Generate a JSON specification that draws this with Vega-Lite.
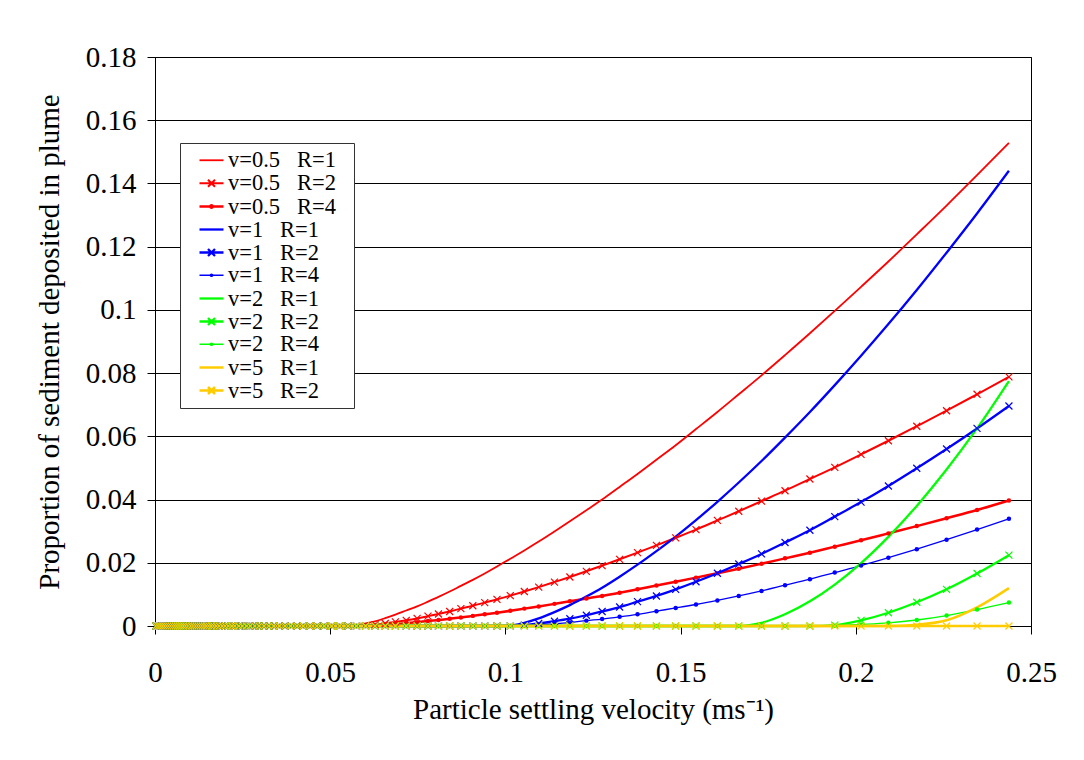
{
  "$schema": "https://vega.github.io/schema/vega-lite/v6.json",
  "width": 876,
  "height": 569,
  "autosize": {"type": "none"},
  "padding": {"left": 155, "top": 57, "right": 53, "bottom": 134},
  "background": "white",
  "config": {
    "font": "Liberation Serif",
    "view": {"stroke": "black", "strokeWidth": 1},
    "axis": {
      "labelFont": "Liberation Serif",
      "labelFontSize": 29,
      "labelColor": "black",
      "labelFlush": false,
      "titleFont": "Liberation Serif",
      "titleFontSize": 29,
      "titleFontWeight": "normal",
      "titleColor": "black",
      "domainColor": "black",
      "tickColor": "black",
      "tickSize": 8,
      "gridColor": "black",
      "gridWidth": 1,
      "gridOpacity": 1
    }
  },
  "data": {
    "values": [
      {"x":0.0003,"a1":0,"a2":0,"a4":0,"b1":0,"b2":0,"b4":0,"c1":0,"c2":0,"c4":0,"d1":0,"d2":0},
      {"x":0.001,"a1":0,"a2":0,"a4":0,"b1":0,"b2":0,"b4":0,"c1":0,"c2":0,"c4":0,"d1":0,"d2":0},
      {"x":0.0016,"a1":0,"a2":0,"a4":0,"b1":0,"b2":0,"b4":0,"c1":0,"c2":0,"c4":0,"d1":0,"d2":0},
      {"x":0.0022,"a1":0,"a2":0,"a4":0,"b1":0,"b2":0,"b4":0,"c1":0,"c2":0,"c4":0,"d1":0,"d2":0},
      {"x":0.0028,"a1":0,"a2":0,"a4":0,"b1":0,"b2":0,"b4":0,"c1":0,"c2":0,"c4":0,"d1":0,"d2":0},
      {"x":0.0034,"a1":0,"a2":0,"a4":0,"b1":0,"b2":0,"b4":0,"c1":0,"c2":0,"c4":0,"d1":0,"d2":0},
      {"x":0.004,"a1":0,"a2":0,"a4":0,"b1":0,"b2":0,"b4":0,"c1":0,"c2":0,"c4":0,"d1":0,"d2":0},
      {"x":0.0046,"a1":0,"a2":0,"a4":0,"b1":0,"b2":0,"b4":0,"c1":0,"c2":0,"c4":0,"d1":0,"d2":0},
      {"x":0.0052,"a1":0,"a2":0,"a4":0,"b1":0,"b2":0,"b4":0,"c1":0,"c2":0,"c4":0,"d1":0,"d2":0},
      {"x":0.0058,"a1":0,"a2":0,"a4":0,"b1":0,"b2":0,"b4":0,"c1":0,"c2":0,"c4":0,"d1":0,"d2":0},
      {"x":0.0064,"a1":0,"a2":0,"a4":0,"b1":0,"b2":0,"b4":0,"c1":0,"c2":0,"c4":0,"d1":0,"d2":0},
      {"x":0.007,"a1":0,"a2":0,"a4":0,"b1":0,"b2":0,"b4":0,"c1":0,"c2":0,"c4":0,"d1":0,"d2":0},
      {"x":0.0076,"a1":0,"a2":0,"a4":0,"b1":0,"b2":0,"b4":0,"c1":0,"c2":0,"c4":0,"d1":0,"d2":0},
      {"x":0.0082,"a1":0,"a2":0,"a4":0,"b1":0,"b2":0,"b4":0,"c1":0,"c2":0,"c4":0,"d1":0,"d2":0},
      {"x":0.0088,"a1":0,"a2":0,"a4":0,"b1":0,"b2":0,"b4":0,"c1":0,"c2":0,"c4":0,"d1":0,"d2":0},
      {"x":0.0094,"a1":0,"a2":0,"a4":0,"b1":0,"b2":0,"b4":0,"c1":0,"c2":0,"c4":0,"d1":0,"d2":0},
      {"x":0.0099,"a1":0,"a2":0,"a4":0,"b1":0,"b2":0,"b4":0,"c1":0,"c2":0,"c4":0,"d1":0,"d2":0},
      {"x":0.0103,"a1":0,"a2":0,"a4":0,"b1":0,"b2":0,"b4":0,"c1":0,"c2":0,"c4":0,"d1":0,"d2":0},
      {"x":0.0108,"a1":0,"a2":0,"a4":0,"b1":0,"b2":0,"b4":0,"c1":0,"c2":0,"c4":0,"d1":0,"d2":0},
      {"x":0.0113,"a1":0,"a2":0,"a4":0,"b1":0,"b2":0,"b4":0,"c1":0,"c2":0,"c4":0,"d1":0,"d2":0},
      {"x":0.0118,"a1":0,"a2":0,"a4":0,"b1":0,"b2":0,"b4":0,"c1":0,"c2":0,"c4":0,"d1":0,"d2":0},
      {"x":0.0123,"a1":0,"a2":0,"a4":0,"b1":0,"b2":0,"b4":0,"c1":0,"c2":0,"c4":0,"d1":0,"d2":0},
      {"x":0.0129,"a1":0,"a2":0,"a4":0,"b1":0,"b2":0,"b4":0,"c1":0,"c2":0,"c4":0,"d1":0,"d2":0},
      {"x":0.0135,"a1":0,"a2":0,"a4":0,"b1":0,"b2":0,"b4":0,"c1":0,"c2":0,"c4":0,"d1":0,"d2":0},
      {"x":0.0141,"a1":0,"a2":0,"a4":0,"b1":0,"b2":0,"b4":0,"c1":0,"c2":0,"c4":0,"d1":0,"d2":0},
      {"x":0.0147,"a1":0,"a2":0,"a4":0,"b1":0,"b2":0,"b4":0,"c1":0,"c2":0,"c4":0,"d1":0,"d2":0},
      {"x":0.0154,"a1":0,"a2":0,"a4":0,"b1":0,"b2":0,"b4":0,"c1":0,"c2":0,"c4":0,"d1":0,"d2":0},
      {"x":0.0161,"a1":0,"a2":0,"a4":0,"b1":0,"b2":0,"b4":0,"c1":0,"c2":0,"c4":0,"d1":0,"d2":0},
      {"x":0.0168,"a1":0,"a2":0,"a4":0,"b1":0,"b2":0,"b4":0,"c1":0,"c2":0,"c4":0,"d1":0,"d2":0},
      {"x":0.0175,"a1":0,"a2":0,"a4":0,"b1":0,"b2":0,"b4":0,"c1":0,"c2":0,"c4":0,"d1":0,"d2":0},
      {"x":0.0183,"a1":0,"a2":0,"a4":0,"b1":0,"b2":0,"b4":0,"c1":0,"c2":0,"c4":0,"d1":0,"d2":0},
      {"x":0.0192,"a1":0,"a2":0,"a4":0,"b1":0,"b2":0,"b4":0,"c1":0,"c2":0,"c4":0,"d1":0,"d2":0},
      {"x":0.0200,"a1":0,"a2":0,"a4":0,"b1":0,"b2":0,"b4":0,"c1":0,"c2":0,"c4":0,"d1":0,"d2":0},
      {"x":0.0209,"a1":0,"a2":0,"a4":0,"b1":0,"b2":0,"b4":0,"c1":0,"c2":0,"c4":0,"d1":0,"d2":0},
      {"x":0.0219,"a1":0,"a2":0,"a4":0,"b1":0,"b2":0,"b4":0,"c1":0,"c2":0,"c4":0,"d1":0,"d2":0},
      {"x":0.0228,"a1":0,"a2":0,"a4":0,"b1":0,"b2":0,"b4":0,"c1":0,"c2":0,"c4":0,"d1":0,"d2":0},
      {"x":0.0239,"a1":0,"a2":0,"a4":0,"b1":0,"b2":0,"b4":0,"c1":0,"c2":0,"c4":0,"d1":0,"d2":0},
      {"x":0.0249,"a1":0,"a2":0,"a4":0,"b1":0,"b2":0,"b4":0,"c1":0,"c2":0,"c4":0,"d1":0,"d2":0},
      {"x":0.0261,"a1":0,"a2":0,"a4":0,"b1":0,"b2":0,"b4":0,"c1":0,"c2":0,"c4":0,"d1":0,"d2":0},
      {"x":0.0272,"a1":0,"a2":0,"a4":0,"b1":0,"b2":0,"b4":0,"c1":0,"c2":0,"c4":0,"d1":0,"d2":0},
      {"x":0.0285,"a1":0,"a2":0,"a4":0,"b1":0,"b2":0,"b4":0,"c1":0,"c2":0,"c4":0,"d1":0,"d2":0},
      {"x":0.0297,"a1":0,"a2":0,"a4":0,"b1":0,"b2":0,"b4":0,"c1":0,"c2":0,"c4":0,"d1":0,"d2":0},
      {"x":0.0311,"a1":0,"a2":0,"a4":0,"b1":0,"b2":0,"b4":0,"c1":0,"c2":0,"c4":0,"d1":0,"d2":0},
      {"x":0.0325,"a1":0,"a2":0,"a4":0,"b1":0,"b2":0,"b4":0,"c1":0,"c2":0,"c4":0,"d1":0,"d2":0},
      {"x":0.0339,"a1":0,"a2":0,"a4":0,"b1":0,"b2":0,"b4":0,"c1":0,"c2":0,"c4":0,"d1":0,"d2":0},
      {"x":0.0355,"a1":0,"a2":0,"a4":0,"b1":0,"b2":0,"b4":0,"c1":0,"c2":0,"c4":0,"d1":0,"d2":0},
      {"x":0.0371,"a1":0,"a2":0,"a4":0,"b1":0,"b2":0,"b4":0,"c1":0,"c2":0,"c4":0,"d1":0,"d2":0},
      {"x":0.0387,"a1":0,"a2":0,"a4":0,"b1":0,"b2":0,"b4":0,"c1":0,"c2":0,"c4":0,"d1":0,"d2":0},
      {"x":0.0405,"a1":0,"a2":0,"a4":0,"b1":0,"b2":0,"b4":0,"c1":0,"c2":0,"c4":0,"d1":0,"d2":0},
      {"x":0.0423,"a1":0,"a2":0,"a4":0,"b1":0,"b2":0,"b4":0,"c1":0,"c2":0,"c4":0,"d1":0,"d2":0},
      {"x":0.0442,"a1":0,"a2":0,"a4":0,"b1":0,"b2":0,"b4":0,"c1":0,"c2":0,"c4":0,"d1":0,"d2":0},
      {"x":0.0462,"a1":0,"a2":0,"a4":0,"b1":0,"b2":0,"b4":0,"c1":0,"c2":0,"c4":0,"d1":0,"d2":0},
      {"x":0.0483,"a1":0,"a2":0,"a4":0,"b1":0,"b2":0,"b4":0,"c1":0,"c2":0,"c4":0,"d1":0,"d2":0},
      {"x":0.0504,"a1":0,"a2":0,"a4":0,"b1":0,"b2":0,"b4":0,"c1":0,"c2":0,"c4":0,"d1":0,"d2":0},
      {"x":0.0527,"a1":0,"a2":0,"a4":0,"b1":0,"b2":0,"b4":0,"c1":0,"c2":0,"c4":0,"d1":0,"d2":0},
      {"x":0.0551,"a1":0,"a2":0,"a4":0,"b1":0,"b2":0,"b4":0,"c1":0,"c2":0,"c4":0,"d1":0,"d2":0},
      {"x":0.0575,"a1":0.0002,"a2":0,"a4":0,"b1":0,"b2":0,"b4":0,"c1":0,"c2":0,"c4":0,"d1":0,"d2":0},
      {"x":0.0601,"a1":0.0008,"a2":0.0001,"a4":0.0001,"b1":0,"b2":0,"b4":0,"c1":0,"c2":0,"c4":0,"d1":0,"d2":0},
      {"x":0.0628,"a1":0.0015,"a2":0.0004,"a4":0.0002,"b1":0,"b2":0,"b4":0,"c1":0,"c2":0,"c4":0,"d1":0,"d2":0},
      {"x":0.0657,"a1":0.0025,"a2":0.0008,"a4":0.0004,"b1":0,"b2":0,"b4":0,"c1":0,"c2":0,"c4":0,"d1":0,"d2":0},
      {"x":0.0686,"a1":0.0036,"a2":0.0013,"a4":0.0006,"b1":0,"b2":0,"b4":0,"c1":0,"c2":0,"c4":0,"d1":0,"d2":0},
      {"x":0.0717,"a1":0.0049,"a2":0.0018,"a4":0.0009,"b1":0,"b2":0,"b4":0,"c1":0,"c2":0,"c4":0,"d1":0,"d2":0},
      {"x":0.0748,"a1":0.0062,"a2":0.0024,"a4":0.0012,"b1":0,"b2":0,"b4":0,"c1":0,"c2":0,"c4":0,"d1":0,"d2":0},
      {"x":0.0779,"a1":0.0077,"a2":0.0031,"a4":0.0016,"b1":0,"b2":0,"b4":0,"c1":0,"c2":0,"c4":0,"d1":0,"d2":0},
      {"x":0.0809,"a1":0.0092,"a2":0.0038,"a4":0.0019,"b1":0,"b2":0,"b4":0,"c1":0,"c2":0,"c4":0,"d1":0,"d2":0},
      {"x":0.0841,"a1":0.0109,"a2":0.0046,"a4":0.0023,"b1":0,"b2":0,"b4":0,"c1":0,"c2":0,"c4":0,"d1":0,"d2":0},
      {"x":0.0873,"a1":0.0127,"a2":0.0055,"a4":0.0027,"b1":0,"b2":0,"b4":0,"c1":0,"c2":0,"c4":0,"d1":0,"d2":0},
      {"x":0.0907,"a1":0.0146,"a2":0.0064,"a4":0.0032,"b1":0,"b2":0,"b4":0,"c1":0,"c2":0,"c4":0,"d1":0,"d2":0},
      {"x":0.0941,"a1":0.0166,"a2":0.0074,"a4":0.0037,"b1":0,"b2":0,"b4":0,"c1":0,"c2":0,"c4":0,"d1":0,"d2":0},
      {"x":0.0976,"a1":0.0188,"a2":0.0084,"a4":0.0042,"b1":0,"b2":0,"b4":0,"c1":0,"c2":0,"c4":0,"d1":0,"d2":0},
      {"x":0.1014,"a1":0.0213,"a2":0.0096,"a4":0.0048,"b1":0.0001,"b2":0,"b4":0,"c1":0,"c2":0,"c4":0,"d1":0,"d2":0},
      {"x":0.1054,"a1":0.0239,"a2":0.0109,"a4":0.0055,"b1":0.0010,"b2":0.0003,"b4":0.0002,"c1":0,"c2":0,"c4":0,"d1":0,"d2":0},
      {"x":0.1095,"a1":0.0267,"a2":0.0123,"a4":0.0062,"b1":0.0024,"b2":0.0008,"b4":0.0004,"c1":0,"c2":0,"c4":0,"d1":0,"d2":0},
      {"x":0.1140,"a1":0.0299,"a2":0.0139,"a4":0.0070,"b1":0.0044,"b2":0.0015,"b4":0.0007,"c1":0,"c2":0,"c4":0,"d1":0,"d2":0},
      {"x":0.1184,"a1":0.0331,"a2":0.0155,"a4":0.0078,"b1":0.0066,"b2":0.0023,"b4":0.0011,"c1":0,"c2":0,"c4":0,"d1":0,"d2":0},
      {"x":0.1231,"a1":0.0366,"a2":0.0173,"a4":0.0087,"b1":0.0093,"b2":0.0034,"b4":0.0017,"c1":0,"c2":0,"c4":0,"d1":0,"d2":0},
      {"x":0.1276,"a1":0.0400,"a2":0.0191,"a4":0.0095,"b1":0.0121,"b2":0.0046,"b4":0.0022,"c1":0,"c2":0,"c4":0,"d1":0,"d2":0},
      {"x":0.1326,"a1":0.0440,"a2":0.0211,"a4":0.0105,"b1":0.0156,"b2":0.0060,"b4":0.0029,"c1":0,"c2":0,"c4":0,"d1":0,"d2":0},
      {"x":0.1377,"a1":0.0481,"a2":0.0232,"a4":0.0116,"b1":0.0194,"b2":0.0077,"b4":0.0037,"c1":0,"c2":0,"c4":0,"d1":0,"d2":0},
      {"x":0.1431,"a1":0.0526,"a2":0.0255,"a4":0.0128,"b1":0.0237,"b2":0.0095,"b4":0.0047,"c1":0,"c2":0,"c4":0,"d1":0,"d2":0},
      {"x":0.1486,"a1":0.0572,"a2":0.0279,"a4":0.0140,"b1":0.0283,"b2":0.0116,"b4":0.0057,"c1":0,"c2":0,"c4":0,"d1":0,"d2":0},
      {"x":0.1544,"a1":0.0623,"a2":0.0305,"a4":0.0153,"b1":0.0335,"b2":0.0140,"b4":0.0068,"c1":0,"c2":0,"c4":0,"d1":0,"d2":0},
      {"x":0.1605,"a1":0.0677,"a2":0.0334,"a4":0.0167,"b1":0.0393,"b2":0.0167,"b4":0.0081,"c1":0,"c2":0,"c4":0,"d1":0,"d2":0},
      {"x":0.1666,"a1":0.0733,"a2":0.0363,"a4":0.0181,"b1":0.0454,"b2":0.0196,"b4":0.0095,"c1":0,"c2":0,"c4":0,"d1":0,"d2":0},
      {"x":0.1731,"a1":0.0793,"a2":0.0395,"a4":0.0197,"b1":0.0522,"b2":0.0228,"b4":0.0111,"c1":0.0010,"c2":0,"c4":0,"d1":0,"d2":0},
      {"x":0.1798,"a1":0.0857,"a2":0.0428,"a4":0.0214,"b1":0.0596,"b2":0.0264,"b4":0.0129,"c1":0.0037,"c2":0,"c4":0,"d1":0,"d2":0},
      {"x":0.1869,"a1":0.0926,"a2":0.0465,"a4":0.0232,"b1":0.0677,"b2":0.0303,"b4":0.0148,"c1":0.0078,"c2":0,"c4":0,"d1":0,"d2":0},
      {"x":0.1940,"a1":0.0997,"a2":0.0502,"a4":0.0251,"b1":0.0762,"b2":0.0346,"b4":0.0169,"c1":0.0131,"c2":0.0003,"c4":0.0001,"d1":0,"d2":0},
      {"x":0.2015,"a1":0.1073,"a2":0.0543,"a4":0.0271,"b1":0.0855,"b2":0.0392,"b4":0.0191,"c1":0.0199,"c2":0.0018,"c4":0.0005,"d1":0,"d2":0},
      {"x":0.2093,"a1":0.1153,"a2":0.0586,"a4":0.0293,"b1":0.0955,"b2":0.0443,"b4":0.0216,"c1":0.0282,"c2":0.0042,"c4":0.0010,"d1":0,"d2":0},
      {"x":0.2174,"a1":0.1239,"a2":0.0632,"a4":0.0316,"b1":0.1063,"b2":0.0499,"b4":0.0243,"c1":0.0380,"c2":0.0075,"c4":0.0019,"d1":0.0004,"d2":0},
      {"x":0.2259,"a1":0.1330,"a2":0.0681,"a4":0.0341,"b1":0.1181,"b2":0.0560,"b4":0.0273,"c1":0.0495,"c2":0.0116,"c4":0.0033,"d1":0.0018,"d2":0},
      {"x":0.2346,"a1":0.1426,"a2":0.0733,"a4":0.0367,"b1":0.1305,"b2":0.0625,"b4":0.0305,"c1":0.0625,"c2":0.0166,"c4":0.0052,"d1":0.0059,"d2":0},
      {"x":0.2437,"a1":0.1528,"a2":0.0788,"a4":0.0397,"b1":0.1440,"b2":0.0696,"b4":0.0339,"c1":0.0775,"c2":0.0224,"c4":0.0074,"d1":0.0120,"d2":0}
    ]
  },
  "transform": [
    {"fold": ["a1","a2","a4","b1","b2","b4","c1","c2","c4","d1","d2"], "as": ["s","p"]}
  ],
  "encoding": {
    "x": {
      "field": "x", "type": "quantitative",
      "scale": {"domain": [0, 0.25], "nice": false, "zero": false},
      "axis": {
        "values": [0, 0.05, 0.1, 0.15, 0.2, 0.25],
        "format": "~g",
        "grid": false,
        "labelPadding": 24,
        "titlePadding": 8,
        "title": "Particle settling velocity (ms⁻¹)"
      }
    },
    "y": {
      "field": "p", "type": "quantitative",
      "scale": {"domain": [0, 0.18], "nice": false},
      "axis": {
        "values": [0, 0.02, 0.04, 0.06, 0.08, 0.1, 0.12, 0.14, 0.16, 0.18],
        "format": "~g",
        "grid": true,
        "labelPadding": 11,
        "titlePadding": 21,
        "title": "Proportion of sediment deposited in plume"
      }
    },
    "color": {
      "field": "s", "type": "nominal",
      "scale": {
        "domain": ["a1","a2","a4","b1","b2","b4","c1","c2","c4","d1","d2"],
        "range": ["#FF0000","#FF0000","#FF0000","#0000FF","#0000FF","#0000FF","#00FF00","#00FF00","#00FF00","#FFCC00","#FFCC00"]
      }
    }
  },
  "layer": [
    {
      "mark": {"type": "line", "interpolate": "monotone"},
      "encoding": {
        "strokeWidth": {
          "field": "s", "type": "nominal",
          "scale": {
            "type": "ordinal",
            "domain": ["a1","a2","a4","b1","b2","b4","c1","c2","c4","d1","d2"],
            "range": [1.8, 2, 2.5, 2.3, 2.3, 1.3, 2.3, 2.3, 1.3, 2.5, 2.5]
          },
          "legend": null
        },
        "color": {
          "field": "s", "type": "nominal",
          "legend": {
            "title": null,
            "orient": "none",
            "legendX": 25,
            "legendY": 86,
            "labelFont": "Liberation Serif",
            "labelFontSize": 22.5,
            "labelColor": "black",
            "labelOffset": 5,
            "labelLimit": 400,
            "symbolSize": 400,
            "symbolStrokeWidth": 2.5,
            "symbolOffset": 14,
            "rowPadding": -1,
            "padding": 6,
            "strokeColor": "#333333",
            "fillColor": "white",
            "labelExpr": "{'a1':'v=0.5\u00a0\u00a0\u00a0R=1\u00a0\u00a0\u200b','a2':'v=0.5\u00a0\u00a0\u00a0R=2\u00a0\u00a0\u200b','a4':'v=0.5\u00a0\u00a0\u00a0R=4\u00a0\u00a0\u200b','b1':'v=1\u00a0\u00a0\u00a0R=1','b2':'v=1\u00a0\u00a0\u00a0R=2','b4':'v=1\u00a0\u00a0\u00a0R=4','c1':'v=2\u00a0\u00a0\u00a0R=1','c2':'v=2\u00a0\u00a0\u00a0R=2','c4':'v=2\u00a0\u00a0\u00a0R=4','d1':'v=5\u00a0\u00a0\u00a0R=1','d2':'v=5\u00a0\u00a0\u00a0R=2'}[datum.value]",
            "encoding": {
              "symbols": {
                "shape": {"value": {"expr": "(datum.value=='a2'||datum.value=='b2'||datum.value=='c2'||datum.value=='d2') ? 'M-1.2,0H1.2M-0.35,-0.35L0.35,0.35M-0.35,0.35L0.35,-0.35' : ((datum.value=='a4'||datum.value=='b4'||datum.value=='c4') ? 'M-1.2,0H1.2M-0.12,0A0.12,0.12,0,1,1,0.12,0A0.12,0.12,0,1,1,-0.12,0' : 'M-1.2,0H1.2')"}},
                "strokeWidth": {"value": {"expr": "(datum.value=='b4'||datum.value=='c4') ? 1.6 : 2.5"}}
              }
            }
          }
        }
      }
    },
    {
      "transform": [{"filter": "indexof(['a4','b4','c4'], datum.s) >= 0"}],
      "mark": {"type": "point", "shape": "circle", "filled": true, "size": 20, "opacity": 1},
      "encoding": {
        "color": {"field": "s", "type": "nominal", "legend": null}
      }
    },
    {
      "transform": [{"filter": "indexof(['a2','b2','c2','d2'], datum.s) >= 0"}],
      "mark": {"type": "point", "shape": "M-1,-1L1,1M-1,1L1,-1", "filled": false, "size": 49, "strokeWidth": 1.2, "opacity": 1},
      "encoding": {
        "color": {"field": "s", "type": "nominal", "legend": null}
      }
    }
  ]
}
